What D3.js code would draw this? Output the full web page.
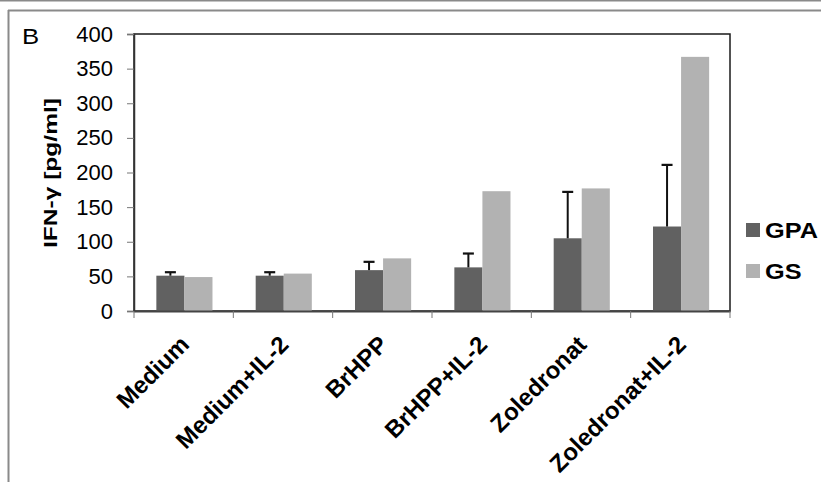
<!DOCTYPE html>
<html><head><meta charset="utf-8">
<script src="https://cdn.jsdelivr.net/npm/d3@7/dist/d3.min.js"></script>
<style>body{margin:0;background:#fff}svg{display:block;font-family:Arial,"Liberation Sans",sans-serif}</style>
</head><body>
<svg id="c" width="821" height="482"></svg>
<script>
const categories = ["Medium","Medium+IL-2","BrHPP","BrHPP+IL-2","Zoledronat","Zoledronat+IL-2"];
const seriesNames = ["GPA","GS"];
const gpaValues = [51, 51, 59, 63, 105, 122];
const gpaErrors = [5, 5, 12, 20, 67, 89];
const gsValues = [49, 54, 76, 173, 177, 367];
const yTicks = [0,50,100,150,200,250,300,350,400];
const colors = {GPA:"#616161", GS:"#b2b2b2"};

const svg = d3.select("#c");
const L = 134, R = 730, T = 34, B = 311;

// outer frame lines
svg.append("line").attr("x1",0).attr("x2",821).attr("y1",0.5).attr("y2",0.5).attr("stroke","#8a8a8a").attr("stroke-width",2);
svg.append("line").attr("x1",8).attr("x2",821).attr("y1",10.5).attr("y2",10.5).attr("stroke","#8a8a8a").attr("stroke-width",2);
svg.append("line").attr("x1",8.5).attr("x2",8.5).attr("y1",10).attr("y2",482).attr("stroke","#8a8a8a").attr("stroke-width",2);

const x0 = d3.scaleBand().domain(categories).range([L,R]).padding(0);
const bw = x0.bandwidth();
const x1 = d3.scaleBand().domain(seriesNames).range([bw*0.225, bw*0.79]);
const y = d3.scaleLinear().domain([0,400]).range([B,T]);

const data = categories.map((c,i)=>({cat:c, vals:[
  {s:"GPA", v:gpaValues[i], e:gpaErrors[i]},
  {s:"GS", v:gsValues[i], e:null}
]}));

// plot border
svg.append("rect").attr("x",L).attr("y",T).attr("width",R-L).attr("height",B-T)
  .attr("fill","none").attr("stroke","#1a1a1a").attr("stroke-width",1.5);

// bars
const g = svg.append("g");
const grp = g.selectAll("g.cat").data(data).join("g").attr("transform",d=>`translate(${x0(d.cat)},0)`);
grp.selectAll("rect").data(d=>d.vals).join("rect")
  .attr("x",d=>x1(d.s)).attr("width",x1.bandwidth())
  .attr("y",d=>y(d.v)).attr("height",d=>B-y(d.v))
  .attr("fill",d=>colors[d.s]);
// error bars
const eb = grp.selectAll("g.err").data(d=>d.vals.filter(v=>v.e!=null)).join("g");
eb.append("line").attr("x1",d=>x1(d.s)+x1.bandwidth()/2).attr("x2",d=>x1(d.s)+x1.bandwidth()/2)
  .attr("y1",d=>y(d.v)).attr("y2",d=>y(d.v+d.e)).attr("stroke","#111").attr("stroke-width",2);
eb.append("line").attr("x1",d=>x1(d.s)+x1.bandwidth()/2-5.5).attr("x2",d=>x1(d.s)+x1.bandwidth()/2+5.5)
  .attr("y1",d=>y(d.v+d.e)).attr("y2",d=>y(d.v+d.e)).attr("stroke","#111").attr("stroke-width",2.2);

// y axis
const ya = svg.append("g").attr("transform",`translate(${L},0)`)
  .call(d3.axisLeft(y).tickValues(yTicks).tickSize(7).tickPadding(14));
ya.select(".domain").attr("stroke","#333").attr("stroke-width",1.5);
ya.selectAll(".tick line").attr("stroke","#777");
ya.selectAll(".tick text").attr("font-size","22px").attr("fill","#000").attr("font-family","Arial, 'Liberation Sans', sans-serif");

// x axis
const xa = svg.append("g").attr("transform",`translate(0,${B})`)
  .call(d3.axisBottom(x0).tickSize(0).tickFormat(""));
xa.select(".domain").attr("stroke","#444").attr("stroke-width",2);
xa.selectAll(".tick").remove();
const bounds = [L].concat(categories.map(c=>x0(c)+bw));
xa.selectAll("line.b").data(bounds).join("line").attr("class","b")
  .attr("x1",d=>d).attr("x2",d=>d).attr("y1",0).attr("y2",7).attr("stroke","#777").attr("stroke-width",1);

// x labels
svg.selectAll("text.xl").data(categories).join("text").attr("class","xl")
  .attr("transform",d=>`translate(${x0(d)+bw/2+7},346) rotate(-45)`)
  .attr("text-anchor","end").attr("font-size","24px").attr("font-weight","bold").text(d=>d);

// y label
svg.append("text").attr("transform","translate(57,173) rotate(-90)")
  .attr("text-anchor","middle").attr("font-size","18px").attr("font-weight","bold")
  .attr("textLength",150).attr("lengthAdjust","spacingAndGlyphs").text("IFN-\u03B3 [pg/ml]");

// panel letter
svg.append("text").attr("transform","translate(22,44) scale(1.12,1)").attr("font-size","23px").text("B");

// legend
const lg = svg.append("g").selectAll("g").data(seriesNames).join("g")
  .attr("transform",(d,i)=>`translate(746,${223+i*41})`);
lg.append("rect").attr("width",14).attr("height",14).attr("fill",d=>colors[d]);
lg.append("text").attr("transform","translate(19,15) scale(1.15,1)").attr("font-size","22px").attr("font-weight","bold").text(d=>d);
</script>
</body></html>
